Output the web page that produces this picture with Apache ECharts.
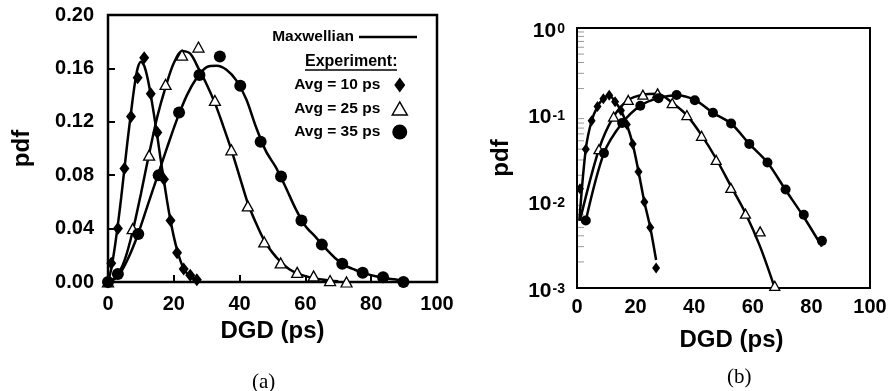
<!DOCTYPE html>
<html>
<head>
<meta charset="utf-8">
<script src="https://cdn.jsdelivr.net/npm/echarts@6/dist/echarts.min.js"></script>
<style>
  html, body { margin: 0; padding: 0; background: #fff; }
  #chart { width: 891px; height: 391px; }
</style>
</head>
<body>
<div id="chart"></div>
<script>
// tick values
var xTicks = [0, 20, 40, 60, 80, 100];
var logDecades = [0.001, 0.01, 0.1, 1];

// measured pdf, avg DGD = 10 ps (diamonds)
var avg10X = [0, 1, 3, 5, 7, 9, 11, 13, 15, 17, 19, 21, 23, 25, 27];
var avg10Y = [0, 0.014, 0.040, 0.085, 0.124, 0.153, 0.168, 0.141, 0.112, 0.077, 0.046, 0.022, 0.0098, 0.005, 0.0017];
// measured pdf, avg DGD = 25 ps (triangles)
var avg25X = [0, 7.5, 12.5, 17.5, 22.5, 27.5, 32.5, 37.5, 42.5, 47.5, 52.5, 57.5, 62.5, 67.5, 72.5];
var avg25Y = [0, 0.040, 0.095, 0.148, 0.170, 0.176, 0.136, 0.099, 0.057, 0.030, 0.0143, 0.0072, 0.0045, 0.00106, 0];
// measured pdf, avg DGD = 35 ps (circles)
var avg35X = [0, 3, 9.2, 15.4, 21.6, 27.8, 34, 40.2, 46.4, 52.6, 58.8, 65, 71.2, 77.4, 83.6, 89.8];
var avg35Y = [0, 0.006, 0.036, 0.080, 0.127, 0.155, 0.169, 0.147, 0.105, 0.079, 0.046, 0.028, 0.0137, 0.007, 0.0035, 0];

// Maxwellian fits, panel (a)
var fit10X = [0, 1, 2, 3, 4, 5, 6, 7, 8, 9, 10, 11, 12, 13, 14, 15, 16, 17, 18, 19, 20, 21, 22, 23, 24, 25, 26, 27, 28];
var fit10Y = [0, 0.010, 0.025, 0.043, 0.063, 0.085, 0.107, 0.127, 0.146, 0.160, 0.165, 0.162, 0.153, 0.140, 0.125, 0.109, 0.092, 0.076, 0.060, 0.046, 0.034, 0.024, 0.016, 0.010, 0.0065, 0.004, 0.0025, 0.0015, 0.001];
var fit25X = [0, 2.5, 5, 7.5, 10, 12.5, 15, 17.5, 20, 22.5, 25, 27.5, 30, 32.5, 35, 37.5, 40, 42.5, 45, 47.5, 50, 52.5, 55, 57.5, 60, 62.5, 65, 67.5, 70];
var fit25Y = [0, 0.004, 0.016, 0.038, 0.066, 0.096, 0.124, 0.146, 0.164, 0.173, 0.171, 0.160, 0.148, 0.134, 0.117, 0.099, 0.079, 0.059, 0.044, 0.031, 0.022, 0.015, 0.0098, 0.0065, 0.0044, 0.0029, 0.0018, 0.001, 0.0005];
var fit35X = [0, 3, 6, 9, 12, 15, 18, 21, 24, 27, 30, 33, 36, 39, 42, 45, 48, 51, 54, 57, 60, 63, 66, 69, 72, 75, 78, 81, 84, 87, 90];
var fit35Y = [0, 0.004, 0.017, 0.035, 0.057, 0.079, 0.101, 0.122, 0.140, 0.153, 0.161, 0.162, 0.159, 0.151, 0.137, 0.116, 0.098, 0.086, 0.071, 0.055, 0.042, 0.034, 0.0255, 0.018, 0.0125, 0.0092, 0.0065, 0.0045, 0.003, 0.002, 0.001];

// Maxwellian fits as drawn on panel (b)
var logFit10X = [0.8, 3, 5, 7, 9, 11, 13, 15, 17, 19, 21, 23, 25, 27];
var logFit10Y = [0.006, 0.040, 0.085, 0.124, 0.153, 0.168, 0.141, 0.112, 0.077, 0.046, 0.022, 0.0098, 0.005, 0.0021];
var logFit25X = [1, 7.5, 12.5, 17.5, 22.5, 27.5, 32.5, 37.5, 42.5, 47.5, 52.5, 57.5, 62.5, 67.5];
var logFit25Y = [0.006, 0.040, 0.095, 0.148, 0.170, 0.174, 0.137, 0.098, 0.058, 0.031, 0.015, 0.0073, 0.003, 0.001];
var logFit35X = [3, 9.2, 15.4, 21.6, 27.8, 34, 40.2, 46.4, 52.6, 58.8, 65, 71.2, 77.4, 83.6];
var logFit35Y = [0.006, 0.036, 0.080, 0.127, 0.155, 0.168, 0.148, 0.105, 0.079, 0.046, 0.028, 0.0135, 0.0066, 0.003];

var FONT = '"Liberation Sans", Arial, Helvetica, sans-serif';

function pairs(xs, ys, positiveOnly){
  var out = [];
  for( var i = 0 ; i < xs.length ; i++ ){
    if( positiveOnly && !(ys[i] > 0) ){
      continue;
    }
    out.push([xs[i], ys[i]]);
  }
  return out;
}

// minor ticks of the log axis: 2..9 in each decade
var minorTicks = [];
for( var d = 0 ; d < logDecades.length - 1 ; d++ ){
  for( var k = 2 ; k <= 9 ; k++ ){
    minorTicks.push([0, logDecades[d] * k]);
  }
}

function fitLine(data, xi){
  return {
    name: 'Maxwellian', type: 'line', xAxisIndex: xi, yAxisIndex: xi,
    data: data, smooth: 0.3, showSymbol: false, symbol: 'none',
    lineStyle: { color: '#000', width: 2.5 }, itemStyle: { color: '#000' },
    z: 2, silent: true, clip: false
  };
}

function markers(name, data, xi, symbol, size, hollow){
  return {
    name: name, type: 'scatter', xAxisIndex: xi, yAxisIndex: xi,
    data: data, symbol: symbol, symbolSize: size,
    itemStyle: hollow ? { color: '#fff', borderColor: '#000', borderWidth: 1.3, opacity: 1 } : { color: '#000', opacity: 1 },
    z: 3, silent: true, clip: false
  };
}

var tickLabel = { color: '#000', fontFamily: FONT, fontWeight: 'bold', fontSize: 20 };
var axisName = { color: '#000', fontFamily: FONT, fontWeight: 'bold', fontSize: 24 };

var chart = echarts.init(document.getElementById('chart'));
chart.setOption({
  animation: false,
  backgroundColor: '#fff',
  grid: [
    { left: 108, top: 15, width: 329, height: 267, show: true, borderColor: '#000', borderWidth: 2.5, backgroundColor: 'transparent' },
    { left: 577, top: 28, width: 293, height: 260, show: true, borderColor: '#000', borderWidth: 2, backgroundColor: 'transparent' }
  ],
  xAxis: [
    {
      gridIndex: 0, type: 'value', min: xTicks[0], max: xTicks[xTicks.length - 1], interval: 20,
      name: 'DGD (ps)', nameLocation: 'middle', nameGap: 36, nameTextStyle: axisName,
      axisLine: { show: false }, splitLine: { show: false },
      axisTick: { inside: true, length: 7, lineStyle: { color: '#000', width: 2 } },
      axisLabel: Object.assign({ margin: 12 }, tickLabel)
    },
    {
      gridIndex: 1, type: 'value', min: xTicks[0], max: xTicks[xTicks.length - 1], interval: 20,
      name: 'DGD (ps)', nameLocation: 'middle', nameGap: 40,
      nameTextStyle: Object.assign({ padding: [0, 0, 0, 16] }, axisName),
      axisLine: { show: false }, splitLine: { show: false }, axisTick: { show: false },
      axisLabel: Object.assign({ margin: 9 }, tickLabel)
    }
  ],
  yAxis: [
    {
      gridIndex: 0, type: 'value', min: 0, max: 0.2, interval: 0.04,
      name: 'pdf', nameLocation: 'middle', nameGap: 74, nameRotate: 90, nameTextStyle: axisName,
      axisLine: { show: false }, splitLine: { show: false },
      axisTick: { inside: true, length: 7, lineStyle: { color: '#000', width: 2 } },
      axisLabel: Object.assign({
        margin: 14,
        formatter: function(v){ return v.toFixed(2); }
      }, tickLabel)
    },
    {
      gridIndex: 1, type: 'log', logBase: 10, min: logDecades[0], max: logDecades[logDecades.length - 1],
      name: 'pdf', nameLocation: 'middle', nameGap: 64, nameRotate: 90, nameTextStyle: axisName,
      axisLine: { show: false }, splitLine: { show: false }, axisTick: { show: false },
      axisLabel: {
        margin: 12,
        formatter: function(v){
          var e = Math.round(Math.log(v) / Math.LN10);
          return '{b|10}{s|' + e + '}';
        },
        rich: {
          b: { color: '#000', fontFamily: FONT, fontWeight: 'bold', fontSize: 21, padding: [6, 0, 0, 0] },
          s: { color: '#000', fontFamily: FONT, fontWeight: 'bold', fontSize: 14, verticalAlign: 'top', padding: [8, 0, 0, 1] }
        }
      }
    }
  ],
  legend: [
    {
      data: [{ name: 'Maxwellian', icon: 'rect', itemStyle: { color: '#000', opacity: 1 } }],
      right: 469, top: 24, align: 'right', itemWidth: 58, itemHeight: 2.5,
      selectedMode: false,
      textStyle: { color: '#000', fontFamily: FONT, fontWeight: 'bold', fontSize: 15.5 }
    },
    {
      data: [
        { name: 'Avg = 10 ps', icon: 'path://M5.5,0L11,7.5L5.5,15L0,7.5Z', itemStyle: { color: '#000', opacity: 1 } },
        { name: 'Avg = 25 ps', icon: 'path://M0,13L7.5,0L15,13Z', itemStyle: { color: '#fff', borderColor: '#000', borderWidth: 1.5, opacity: 1 } },
        { name: 'Avg = 35 ps', icon: 'circle', itemStyle: { color: '#000', opacity: 1 } }
      ],
      orient: 'vertical', right: 478, top: 72, align: 'right',
      itemWidth: 15, itemHeight: 15, itemGap: 7.5, selectedMode: false,
      textStyle: { color: '#000', fontFamily: FONT, fontWeight: 'bold', fontSize: 15.5, padding: [0, 7, 0, 0] }
    }
  ],
  graphic: [
    { type: 'text', left: 305, top: 54, style: { text: 'Experiment:', fill: '#000', font: 'bold 16px ' + FONT } },
    { type: 'line', shape: { x1: 305, y1: 70, x2: 397, y2: 70 }, style: { stroke: '#000', lineWidth: 1.5 } },
    { type: 'text', left: 252, top: 372, style: { text: '(a)', fill: '#000', font: '21px "Liberation Serif", "Times New Roman", serif' } },
    { type: 'text', left: 727, top: 367, style: { text: '(b)', fill: '#000', font: '21px "Liberation Serif", "Times New Roman", serif' } }
  ],
  series: [
    fitLine(pairs(fit10X, fit10Y), 0),
    fitLine(pairs(fit25X, fit25Y), 0),
    fitLine(pairs(fit35X, fit35Y), 0),
    markers('Avg = 10 ps', pairs(avg10X, avg10Y), 0, 'diamond', [10, 13], false),
    markers('Avg = 25 ps', pairs(avg25X, avg25Y), 0, 'triangle', [11, 10], true),
    markers('Avg = 35 ps', pairs(avg35X, avg35Y), 0, 'circle', 12, false),

    fitLine(pairs(logFit10X, logFit10Y, true), 1),
    fitLine(pairs(logFit25X, logFit25Y, true), 1),
    fitLine(pairs(logFit35X, logFit35Y, true), 1),
    markers('Avg = 10 ps', pairs(avg10X, avg10Y, true), 1, 'diamond', [8, 11], false),
    markers('Avg = 25 ps', pairs(avg25X, avg25Y, true), 1, 'triangle', [10, 9], true),
    markers('Avg = 35 ps', pairs(avg35X, avg35Y, true), 1, 'circle', 10, false),
    {
      type: 'custom', xAxisIndex: 1, yAxisIndex: 1, data: minorTicks, silent: true, z: 1,
      renderItem: function(params, api){
        var p = api.coord([api.value(0), api.value(1)]);
        return {
          type: 'line',
          shape: { x1: p[0] + 1, y1: p[1], x2: p[0] + 7, y2: p[1] },
          style: { stroke: '#999', lineWidth: 1 }
        };
      }
    }
  ]
});
</script>
</body>
</html>
